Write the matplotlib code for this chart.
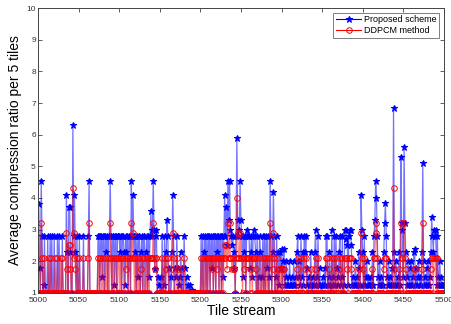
import numpy as np
import matplotlib
matplotlib.use("Agg")
import matplotlib.pyplot as plt
from matplotlib.lines import Line2D

plt.rcParams["font.family"] = ["Liberation Sans", "DejaVu Sans"]

# tile index offset 5000, one value per tile
tiles = np.arange(5000, 5501)

proposed = [
    1, 3.8, 1.8, 1, 4.55, 2.8, 1, 1.25, 2.8, 1,
    1, 1, 2.8, 1, 1, 2.8, 1, 2.8, 1, 1,
    2.8, 1, 1, 1, 2.8, 1, 2.8, 1, 1, 1,
    2.8, 1, 1, 1, 1, 4.1, 2.3, 1, 3.7, 3.7,
    2.3, 1, 1, 6.3, 2.8, 4.1, 2.3, 1, 2.8, 1,
    1, 2.8, 1, 1, 1, 1, 2.8, 1, 1, 1,
    1, 1, 2.8, 4.55, 1, 1, 1, 1, 1, 1,
    1, 1, 1, 1, 2.8, 2.8, 1, 2.8, 2.8, 1.5,
    2.8, 2.8, 1, 2.8, 2.3, 2.8, 1, 2.8, 2.8, 4.55,
    2.8, 1, 2.8, 2.8, 1.25, 2.8, 2.8, 1, 2.8, 2.8,
    2.8, 2.3, 2.8, 1, 2.8, 2.8, 2.3, 1.25, 2.8, 2.3,
    2.8, 1, 2.8, 2.8, 1, 4.55, 2.8, 4.1, 2.8, 2.3,
    2.8, 1, 2.8, 1.5, 2.8, 2.8, 1, 2.3, 2.8, 1,
    2.8, 2.8, 1, 2.3, 2.8, 1, 2.8, 1.5, 2.8, 3.6,
    2.8, 3.0, 4.55, 3.0, 1.75, 3.0, 2.8, 1, 1.5, 1.25,
    1, 1.5, 1, 2.8, 1, 1.25, 2.8, 1, 2.3, 3.3,
    2.8, 1, 1.8, 1, 1.5, 2.3, 4.1, 2.8, 1, 1.8,
    1.5, 2.8, 1.8, 1, 1.25, 1.5, 2.3, 1, 1.8, 1,
    2.8, 1.8, 1, 1.5, 1, 1.25, 1, 1.25, 1, 1,
    1.1, 1, 1, 1, 1, 1, 1, 1, 1, 1,
    1, 2.8, 1, 2.8, 1, 2.3, 2.8, 1, 2.8, 1,
    2.8, 2.8, 1, 2.8, 1.8, 2.8, 1, 2.8, 2.8, 1,
    2.8, 2.3, 2.8, 1, 2.8, 2.8, 1, 2.8, 1.5, 2.8,
    4.1, 2.8, 3.7, 2.5, 4.55, 3.3, 4.55, 3.0, 2.8, 2.5,
    2.8, 1.8, 2.3, 1, 2.8, 5.9, 3.3, 2.8, 3.0, 4.55,
    3.3, 2.8, 1.5, 2.8, 2.3, 2.8, 1, 2.8, 3.0, 2.8,
    2.8, 1.8, 2.3, 2.8, 1.5, 2.8, 3.0, 2.8, 2.3, 1,
    2.8, 1, 1.5, 2.8, 2.3, 1, 1.5, 2.8, 1, 2.8,
    1, 2.8, 1.8, 2.8, 1, 1.5, 4.55, 2.8, 1, 2.3,
    4.2, 2.8, 1, 1.5, 2.8, 1, 2.3, 1.25, 2.3, 1.8,
    2.4, 1, 2.0, 2.4, 1.25, 1.5, 2.0, 1.25, 1.25, 1.5,
    2.0, 1.25, 1.25, 1.5, 1.25, 2.0, 1.25, 1.25, 1.5, 2.3,
    2.8, 1.5, 2.0, 1.25, 2.8, 1.5, 2.3, 1.25, 2.8, 2.3,
    2.8, 1.25, 1.8, 1, 1.5, 1.25, 2.3, 1.25, 1, 1.5,
    1.25, 2.3, 3.0, 1.25, 1.5, 2.8, 1.25, 1.8, 1.25, 1,
    1.25, 1.5, 1.25, 1.8, 1.25, 2.8, 2.8, 1.25, 1.5, 2.3,
    1.25, 1, 3.0, 1.25, 1.5, 2.8, 1.25, 2.8, 1.8, 1.25,
    1.5, 2.3, 2.8, 1.25, 1.5, 2.8, 1, 1.25, 3.0, 2.7,
    3.0, 2.5, 1.25, 2.8, 3.0, 3.0, 2.5, 1.25, 1.5, 1.25,
    1.25, 2.0, 1.25, 1.5, 1.25, 2.3, 1.8, 1.25, 4.1, 3.0,
    2.3, 1.25, 2.8, 1.25, 1.5, 2.0, 1.25, 1.5, 1.25, 1.25,
    1.5, 1.25, 2.3, 1.25, 2.8, 3.3, 4.55, 4.0, 2.8, 1.5,
    1.25, 2.0, 1.25, 1.5, 1.25, 1.25, 2.3, 3.2, 3.85, 2.8,
    1.5, 1.25, 2.0, 1.25, 1.5, 1.25, 1.8, 1.25, 6.85, 2.3,
    1.25, 2.0, 1.25, 1.5, 1.25, 2.3, 1.25, 5.3, 3.2, 3.0,
    1.5, 5.6, 3.2, 2.3, 1.25, 1.5, 2.0, 1.25, 1.8, 1.25,
    2.0, 1.25, 1.5, 2.3, 2.4, 1.25, 1.8, 1.25, 1.5, 2.0,
    1.25, 1.5, 1.25, 2.3, 5.1, 2.0, 1.25, 1.5, 1.25, 1.8,
    1.25, 2.0, 1.25, 1.5, 2.3, 3.4, 2.8, 2.3, 3.0, 2.8,
    3.0, 1.25, 2.8, 1.5, 1.25, 2.0, 1.25, 1.5, 1.25, 1.25,
    1.25,
]

ddpcm = [
    1, 1, 1, 1, 3.2, 2.1, 1, 1, 2.1, 1,
    1, 1, 1, 2.1, 1, 1, 2.1, 1, 1, 1,
    1, 2.1, 1, 1, 2.1, 1, 1, 1, 2.1, 1,
    2.1, 1, 1, 1, 1, 2.9, 1.75, 1, 2.5, 2.5,
    1.75, 1, 1, 4.3, 2.1, 2.9, 1.75, 1, 2.1, 1,
    1, 2.1, 1, 1, 1, 1, 2.1, 1, 1, 1,
    1, 1, 2.1, 3.2, 1, 1, 1, 1, 1, 1,
    1, 1, 1, 1, 2.1, 1, 2.1, 2.1, 1, 1,
    2.1, 1, 1, 2.1, 1, 2.1, 1, 2.1, 1, 3.2,
    2.1, 1, 2.1, 1, 1, 2.1, 2.1, 1, 1, 2.1,
    2.1, 1, 2.1, 1, 2.1, 2.1, 1, 1, 2.1, 1.75,
    2.1, 1, 2.1, 2.1, 1, 3.2, 2.1, 2.9, 2.1, 1,
    2.1, 1, 2.1, 1, 2.1, 1, 1, 1.75, 2.1, 1,
    2.1, 1, 1, 1, 2.1, 1, 2.1, 1, 2.1, 2.1,
    2.1, 2.1, 3.2, 2.1, 1.75, 2.1, 2.1, 1, 1, 1,
    1, 1, 1, 2.1, 1, 1, 2.1, 1, 1.75, 2.1,
    2.1, 1, 1, 1, 1, 1.75, 2.9, 2.1, 1, 1,
    1, 2.1, 1.75, 1, 1, 1, 1.75, 1, 1, 1,
    2.1, 1, 1, 1, 1, 1, 1, 1, 1, 1,
    1, 1, 1, 1, 1, 1, 1, 1, 1, 1,
    1, 2.1, 1, 2.1, 1, 1, 2.1, 1, 2.1, 1,
    2.1, 2.1, 1, 2.1, 1.75, 2.1, 1, 2.1, 2.1, 1,
    2.1, 1.75, 2.1, 1, 2.1, 2.1, 1, 2.1, 1, 2.1,
    2.5, 2.1, 2.5, 1.75, 3.2, 2.1, 3.2, 2.1, 2.1, 1.75,
    2.1, 1.75, 1.75, 1, 2.1, 4.0, 2.9, 2.1, 2.1, 2.9,
    2.1, 2.1, 1, 2.1, 1.75, 2.1, 1, 2.1, 2.1, 2.1,
    2.1, 1, 1.75, 2.1, 1, 2.1, 2.1, 2.1, 1.75, 1,
    2.1, 1, 1, 2.1, 1, 1, 1, 2.1, 1, 2.1,
    1, 2.1, 1, 2.1, 1, 1, 3.2, 2.1, 1, 1.75,
    2.9, 2.1, 1, 1, 2.1, 1, 1.75, 1, 1.75, 1,
    1.75, 1, 1.75, 1.75, 1, 1, 1, 1, 1, 1,
    1, 1, 1, 1, 1, 1, 1, 1, 1, 1.75,
    2.1, 1, 1, 1, 2.1, 1, 1, 1, 2.1, 1.75,
    2.1, 1, 1, 1, 1, 1, 1.75, 1, 1, 1,
    1, 1.75, 2.1, 1, 1, 2.1, 1, 1, 1, 1,
    1, 1, 1, 1, 1, 2.1, 2.1, 1, 1, 1.75,
    1, 1, 2.1, 1, 1, 2.1, 1, 2.1, 1, 1,
    1, 1.75, 2.1, 1, 1, 2.1, 1, 1, 2.1, 2.1,
    2.1, 1.75, 1, 2.1, 2.1, 2.1, 1.75, 1, 1, 1,
    1, 1, 1, 1, 1, 1.75, 1, 1, 2.9, 2.1,
    1.75, 1, 2.1, 1, 1, 1, 1, 1, 1, 1,
    1, 1, 1.75, 1, 2.1, 2.1, 3.2, 2.9, 2.1, 1,
    1, 1, 1, 1, 1, 1, 1.75, 2.1, 2.1, 2.1,
    1, 1, 1, 1, 1, 1, 1, 1, 4.3, 1.75,
    1, 1, 1, 1, 1, 1.75, 1, 3.2, 2.1, 2.1,
    1, 3.2, 2.1, 1.75, 1, 1, 1, 1, 1, 1,
    1, 1, 1, 1.75, 1.75, 1, 1, 1, 1, 1,
    1, 1, 1, 1.75, 3.2, 1, 1, 1, 1, 1,
    1, 1, 1, 1, 1.75, 2.1, 2.1, 1, 2.1, 2.1,
    2.1, 1, 2.1, 1, 1, 1, 1, 1, 1, 1,
    1,
]

series_labels = ["Proposed scheme", "DDPCM method"]
blue, red = "#0000ff", "#ff0000"

fig = plt.figure(figsize=(4.52, 3.24), dpi=100)
ax = fig.add_axes([0.084, 0.096, 0.898, 0.879])

# lines drawn a bit lighter than the markers, as in the blurred source
ax.plot(tiles, proposed, "-", color=blue, lw=0.9, alpha=0.55)
ax.plot(tiles, proposed, "*", color=blue, ms=4.5, mew=0.8)
ax.plot(tiles, ddpcm, "-", color=red, lw=0.9, alpha=0.5)
ax.plot(tiles, ddpcm, "o", color=red, ms=4, mew=0.7, mfc="none")

ax.set_xlim(5000, 5500)
ax.set_ylim(1, 10)
ax.set_xticks(np.arange(5000, 5501, 50))
ax.set_yticks(np.arange(1, 11, 1))
ax.tick_params(direction="in", top=True, right=True, length=3, width=0.6,
               labelsize=6, labelcolor="#333333", color="#444444", pad=1.5)
ax.tick_params(axis="x", pad=3)
for lab in ax.get_xticklabels() + ax.get_yticklabels():
    lab.set_family(["Liberation Sans Narrow", "Liberation Sans", "DejaVu Sans"])
for sp in ax.spines.values():
    sp.set_color("#444444")
    sp.set_linewidth(0.7)

ax.set_xlabel("Tile stream", fontsize=10, labelpad=0)
ax.set_ylabel("Average compression ratio per 5 tiles", fontsize=10, labelpad=3)

handles = [
    Line2D([], [], color=blue, lw=0.8, marker="*", ms=4.5, mew=0.8),
    Line2D([], [], color=red, lw=0.8, marker="o", ms=4, mew=0.7, mfc="none"),
]
leg = ax.legend(handles, series_labels, loc="upper right", fontsize=6.5,
                frameon=True, fancybox=False, edgecolor="#444444",
                borderpad=0.3, labelspacing=0.2, handlelength=2.8,
                handletextpad=0.3, borderaxespad=0.5)
leg.get_frame().set_linewidth(0.6)

fig.savefig("out.png", dpi=100)
plt.close(fig)
